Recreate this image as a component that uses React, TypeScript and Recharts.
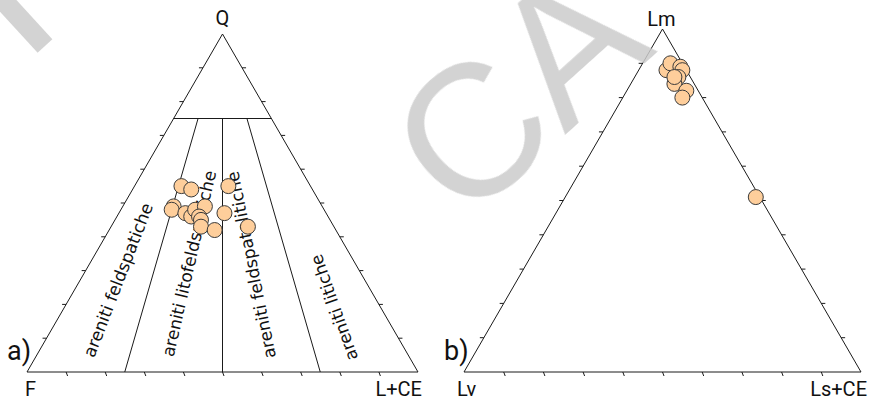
import React from "react";
import { ScatterChart, Scatter, XAxis, YAxis, ReferenceLine, ReferenceDot } from "recharts";

const H = 402;
const SQ3 = Math.sqrt(3) / 2;
const FONT = "'Comic Sans MS', 'DejaVu Sans', sans-serif";
const VERTEX_FONT = "'Comic Sans MS', Roboto, sans-serif";

// QFL composition (%): Q, F, L+CE
const qflQ = [55, 54, 55, 49, 48, 47, 46, 48, 49, 46, 45, 43, 42, 47, 43];
const qflF = [33, 31, 21, 38, 39, 36, 35, 33, 30, 33, 33, 34, 31, 26, 22];
const qflL = [12, 15, 24, 13, 13, 17, 19, 19, 21, 21, 22, 23, 27, 27, 35];

// lithic fragments (%): Lm, Lv, Ls+CE
const lmLm = [88, 90, 89, 88, 86, 84, 82, 80, 86, 51];
const lmLv = [5, 3, 1, 1, 3, 5, 3, 5, 4, 1];
const lmLs = [7, 7, 10, 11, 11, 11, 15, 15, 10, 48];

const qflVertices = ["Q", "F", "L+CE"];
const lmVertices = ["Lm", "Lv", "Ls+CE"];

// sandstone fields below Q = 75, split by L/(F+L)
const qCutoff = 75;
const fieldSplits = [0.25, 0.5, 0.75];
const fieldNames = [
  "areniti feldspatiche",
  "areniti litofeldspatiche",
  "areniti feldspatolitiche",
  "areniti litiche",
];

// ternary (top, right) -> cartesian unit triangle
const toXY = (top: number, right: number) => ({ x: (right + top / 2) / 100, y: (top * SQ3) / 100 });

type Panel = { offset: number; width: number; baseX: number; baseY: number; side: number; apexY: number };

const leftPanel: Panel = { offset: 0, width: 440, baseX: 27, baseY: 372, side: 391, apexY: 34 };
const rightPanel: Panel = { offset: 440, width: 431, baseX: 24, baseY: 372, side: 397, apexY: 29 };

// label anchors inside the QFL fields: [Q, L] and rotation
const fieldLabelLayout = [
  { q: 27.2, l: 9.7, angle: -68.8 },
  { q: 32.1, l: 25.4, angle: -77 },
  { q: 31.7, l: 41.5, angle: -101.5 },
  { q: 19.1, l: 69.0, angle: -109.5 },
];

type Seg = [{ x: number; y: number }, { x: number; y: number }];

function scales(p: Panel) {
  const kx = p.side;
  const ky = (p.baseY - p.apexY) / SQ3;
  const x0 = -p.baseX / kx;
  const y0 = -(H - p.baseY) / ky;
  return { kx, ky, xd: [x0, x0 + p.width / kx], yd: [y0, y0 + H / ky] };
}

function frameSegments(p: Panel): Seg[] {
  const { kx, ky } = scales(p);
  const A = toXY(100, 0);
  const B = toXY(0, 0);
  const C = toXY(0, 100);
  const segs: Seg[] = [
    [B, C],
    [B, A],
    [C, A],
  ];
  for (let k = 10; k < 100; k += 10) {
    const b = toXY(0, k);
    segs.push([b, { x: b.x + 1.5 / kx, y: b.y - 4 / ky }]);
    const l = toXY(k, 0);
    segs.push([l, { x: l.x - 4 / kx, y: l.y }]);
    const r = toXY(k, 100 - k);
    segs.push([r, { x: r.x + 4 / kx, y: r.y }]);
  }
  return segs;
}

function fieldSegments(): Seg[] {
  const rest = 100 - qCutoff;
  const segs: Seg[] = [[toXY(qCutoff, 0), toXY(qCutoff, rest)]];
  fieldSplits.forEach((r) => segs.push([toXY(qCutoff, rest * r), toXY(0, 100 * r)]));
  return segs;
}

const Dot = (props: any) => (
  <circle cx={props.cx} cy={props.cy} r={7.5} fill="#FECE9B" stroke="#3a3a3a" strokeWidth={1} />
);

const textAt = (label: string, dx: number, dy: number, anchor: string, size: number) => (props: any) =>
  (
    <text
      x={props.cx + dx}
      y={props.cy + dy}
      textAnchor={anchor}
      fontSize={size}
      fontFamily={VERTEX_FONT}
      fill="#111"
    >
      {label}
    </text>
  );

type VertexLabel = { dx: number; dy: number; anchor: string };

function TernaryPanel({
  panel,
  points,
  vertices,
  vertexLayout,
  letter,
  withFields,
}: {
  panel: Panel;
  points: { x: number; y: number }[];
  vertices: string[];
  vertexLayout: VertexLabel[];
  letter: string;
  withFields?: boolean;
}) {
  const { xd, yd } = scales(panel);
  const segs = [...frameSegments(panel), ...(withFields ? fieldSegments() : [])];
  const corners = [toXY(100, 0), toXY(0, 0), toXY(0, 100)];
  return (
    <div style={{ position: "absolute", left: panel.offset, top: 0 }}>
      <ScatterChart width={panel.width} height={H} margin={{ top: 0, right: 0, bottom: 0, left: 0 }}>
        <XAxis type="number" dataKey="x" domain={xd} hide allowDataOverflow />
        <YAxis type="number" dataKey="y" domain={yd} hide allowDataOverflow />
        {segs.map((s, i) => (
          <ReferenceLine key={i} segment={s} stroke="#1a1a1a" strokeWidth={1} ifOverflow="visible" />
        ))}
        {withFields &&
          fieldNames.map((name, i) => {
            const f = fieldLabelLayout[i];
            const c = toXY(f.q, f.l);
            return (
              <ReferenceDot
                key={name}
                x={c.x}
                y={c.y}
                r={0}
                ifOverflow="visible"
                shape={(p: any) => (
                  <text
                    x={p.cx}
                    y={p.cy}
                    dy="0.35em"
                    textAnchor="middle"
                    fontSize={17}
                    fontFamily={FONT}
                    fill="#111"
                    transform={`rotate(${f.angle} ${p.cx} ${p.cy})`}
                  >
                    {name}
                  </text>
                )}
              />
            );
          })}
        {vertices.map((v, i) => {
          const L = vertexLayout[i];
          return (
            <ReferenceDot
              key={v}
              x={corners[i].x}
              y={corners[i].y}
              r={0}
              ifOverflow="visible"
              shape={textAt(v, L.dx, L.dy, L.anchor, 20)}
            />
          );
        })}
        <ReferenceDot
          x={corners[1].x}
          y={corners[1].y}
          r={0}
          ifOverflow="visible"
          shape={textAt(letter, -20, -12, "start", 27)}
        />
        <Scatter data={points} shape={Dot} isAnimationActive={false} />
      </ScatterChart>
    </div>
  );
}

const qflPoints = qflQ.map((q, i) => toXY(q, qflL[i]));
const lmPoints = lmLm.map((q, i) => toXY(q, lmLs[i]));

export default function App() {
  return (
    <div style={{ position: "absolute", left: 0, top: 0, width: 871, height: H, background: "#fff" }}>
      <TernaryPanel
        panel={leftPanel}
        points={qflPoints}
        vertices={qflVertices}
        vertexLayout={[
          { dx: 0, dy: -9, anchor: "middle" },
          { dx: -2, dy: 24, anchor: "start" },
          { dx: 4, dy: 24, anchor: "end" },
        ]}
        letter="a)"
        withFields
      />
      <TernaryPanel
        panel={rightPanel}
        points={lmPoints}
        vertices={lmVertices}
        vertexLayout={[
          { dx: -1, dy: -3, anchor: "middle" },
          { dx: -7, dy: 24, anchor: "start" },
          { dx: 6, dy: 24, anchor: "end" },
        ]}
        letter="b)"
      />
      <svg
        width={871}
        height={H}
        style={{ position: "absolute", left: 0, top: 0, pointerEvents: "none" }}
      >
        <g opacity={0.85} fill="#cccccc" stroke="#cccccc">
          <line x1={-9} y1={-13} x2={45} y2={46} strokeWidth={20} />
          <text
            x={464}
            y={226}
            fontSize={188}
            fontFamily="'Liberation Sans', Arial, sans-serif"
            stroke="none"
            transform="rotate(-42 464 226)"
          >
            CA
          </text>
        </g>
      </svg>
    </div>
  );
}
